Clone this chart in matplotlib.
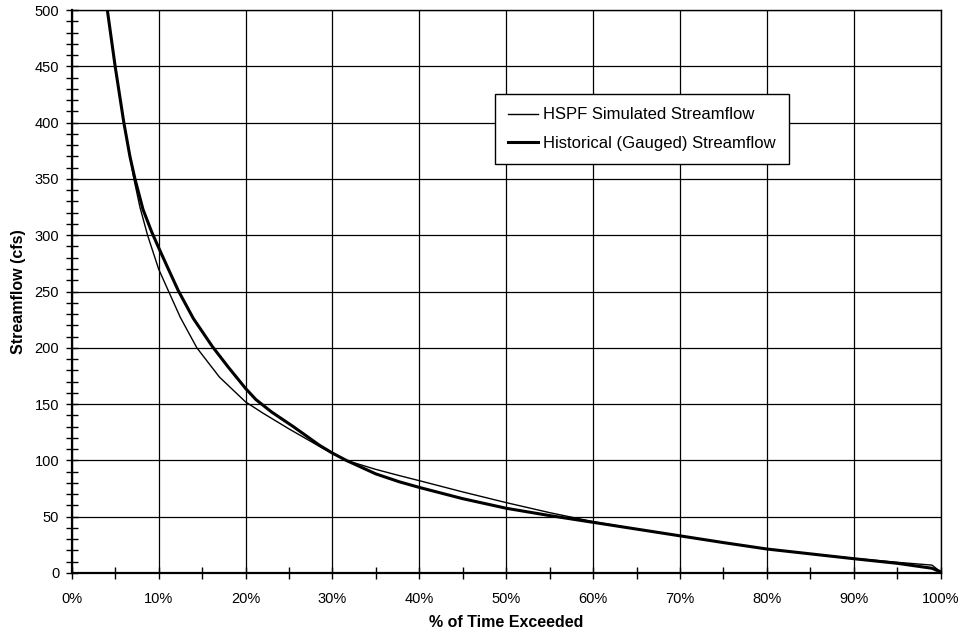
import matplotlib
matplotlib.use("Agg")
import matplotlib.pyplot as plt
from matplotlib.ticker import MultipleLocator, FuncFormatter

plt.rcParams['font.family'] = ['Liberation Sans', 'DejaVu Sans']

# Historical (gauged) streamflow duration curve
hist_pct = [3.5, 4.1, 5.0, 6.0, 6.7, 7.28, 8.2, 9.2, 10.0, 11.0, 12.25, 14.0, 16.2, 18.0,
            20.0, 21.2, 23.0, 25.5, 28.5, 30.0, 31.6, 35.0, 37.7, 40.0, 45.0, 50.0,
            55.0, 60.0, 65.0, 70.0, 75.0, 80.0, 85.0, 90.0, 95.0, 99.0, 100.0]
hist_cfs = [565, 500, 450, 400, 370, 350, 323, 303, 289, 272, 251, 226, 201, 183,
            164, 154, 143, 130, 113.5, 106.5, 100, 88, 81, 76, 66, 57.5,
            51, 45, 39, 33, 27, 21.3, 17, 12.7, 8.6, 4.2, 1]

# HSPF simulated streamflow duration curve
sim_pct = [3.5, 4.1, 5.0, 6.0, 7.16, 7.85, 8.73, 10.0, 11.1, 12.5, 14.4, 17.0, 20.0, 22.0,
           25.0, 28.5, 30.0, 31.6, 35.0, 37.7, 40.0, 45.0, 50.0, 55.0, 60.0,
           65.0, 70.0, 75.0, 80.0, 85.0, 90.0, 95.0, 99.0, 100.0]
sim_cfs = [565, 500, 450, 400, 350, 325, 300, 270, 251, 227, 200, 174, 152, 142,
           128, 112.5, 106, 100, 92, 86.5, 82, 72, 62.5, 53.6, 45.6,
           39, 33, 27, 21.3, 17, 13, 9.5, 7, 1]

fig = plt.figure(figsize=(9.61, 6.34), dpi=100)
ax = fig.add_axes([71.7 / 961, 1 - 573 / 634, (940.7 - 71.7) / 961, (573 - 10) / 634])

ax.plot(sim_pct, sim_cfs, color='black', lw=1.0, label='HSPF Simulated Streamflow', zorder=3)
ax.plot(hist_pct, hist_cfs, color='black', lw=2.2, label='Historical (Gauged) Streamflow', zorder=3)

ax.set_xlim(0, 100)
ax.set_ylim(0, 500)
ax.xaxis.set_major_locator(MultipleLocator(10))
ax.xaxis.set_minor_locator(MultipleLocator(5))
ax.yaxis.set_major_locator(MultipleLocator(50))
ax.yaxis.set_minor_locator(MultipleLocator(10))
ax.xaxis.set_major_formatter(FuncFormatter(lambda v, p: f"{int(round(v))}%"))

ax.grid(True, which='major', color='black', lw=0.9)
for s in ax.spines.values():
    s.set_color('black')
    s.set_linewidth(1.0)
ax.spines['bottom'].set_linewidth(1.6)
ax.spines['left'].set_linewidth(1.6)

ax.tick_params(axis='both', which='both', direction='inout', color='black', width=1.0)
ax.tick_params(axis='x', which='major', length=8, pad=10, labelsize=10.5)
ax.tick_params(axis='x', which='minor', length=8)
ax.tick_params(axis='y', which='major', length=8, pad=5, labelsize=10.5)
ax.tick_params(axis='y', which='minor', length=8)

ax.set_xlabel('% of Time Exceeded', fontsize=11.5, fontweight='bold', labelpad=6)
ax.set_ylabel('Streamflow (cfs)', fontsize=11.5, fontweight='bold', labelpad=6)

leg = ax.legend(loc='upper left', bbox_to_anchor=((495 - 71.7) / 869, 1 - (94 - 10) / 563),
                frameon=True, fancybox=False, edgecolor='black', framealpha=1,
                fontsize=12, handlelength=1.8, handletextpad=0.3, borderpad=0.8,
                labelspacing=0.8, borderaxespad=0)
leg.get_frame().set_linewidth(1.0)

fig.savefig('out.png', dpi=100)
